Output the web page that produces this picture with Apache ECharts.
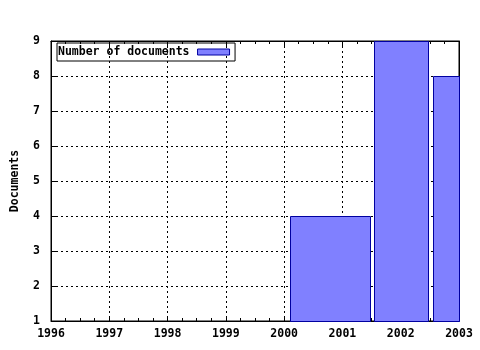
<!DOCTYPE html>
<html>
<head>
<meta charset="utf-8">
<script src="https://cdn.jsdelivr.net/npm/echarts@6/dist/echarts.min.js"></script>
<style>
html,body{margin:0;padding:0;background:#fff;}
#c{width:480px;height:350px;}
</style>
</head>
<body>
<div id="c"></div>
<script>
// Data
var seriesName = 'Number of documents';
var years = [2001, 2002, 2003];
var documents = [4, 9, 8];
var boxLeft = [2000.1, 2001.54, 2002.55];
var boxRight = [2001.47, 2002.47, 2003.45];
var xMin = 1996, xMax = 2003;
var yMin = 1, yMax = 9;

var FONT = '"DejaVu Sans Mono", monospace';
var data = years.map(function (y, i) { return [boxLeft[i], boxRight[i], documents[i], y]; });

var chart = echarts.init(document.getElementById('c'), null, {renderer: 'canvas'});
var labelStyle = {color: '#000', fontFamily: FONT, fontWeight: 'bold', fontSize: 11.5};
var gridLine = {show: true, lineStyle: {color: '#000', type: [2, 3], width: 1}};

chart.setOption({
  animation: false,
  backgroundColor: '#fff',
  grid: {left: 51, right: 21, top: 41, bottom: 29, containLabel: false, outerBoundsMode: 'none',
         show: true, borderColor: '#000', borderWidth: 1, backgroundColor: 'transparent'},
  legend: {
    show: true,
    left: 57, top: 43,
    align: 'right',
    itemWidth: 32, itemHeight: 6,
    itemGap: 8,
    borderColor: '#000', borderWidth: 1, borderRadius: 0,
    padding: [3, 5, 3, 1],
    icon: 'rect',
    itemStyle: {color: '#8080ff', borderColor: '#0000a0', borderWidth: 1},
    textStyle: Object.assign({padding: [0, 3, 0, 0]}, labelStyle),
    data: [seriesName]
  },
  xAxis: [{
    type: 'value', min: xMin, max: xMax, interval: 1,
    axisLine: {show: true, onZero: false, lineStyle: {color: '#000'}},
    axisTick: {show: true, inside: true, length: 5, lineStyle: {color: '#000'}},
    minorTick: {show: true, splitNumber: 4, length: 3, lineStyle: {color: '#000'}},
    axisLabel: Object.assign({margin: 7, formatter: function (v) { return String(v); }}, labelStyle),
    splitLine: gridLine
  }, {
    type: 'value', min: xMin, max: xMax, interval: 1, position: 'top',
    axisLine: {show: true, onZero: false, lineStyle: {color: '#000'}},
    axisTick: {show: true, inside: true, length: 5, lineStyle: {color: '#000'}},
    minorTick: {show: true, splitNumber: 4, length: 3, lineStyle: {color: '#000'}},
    axisLabel: {show: false}, splitLine: {show: false}
  }],
  yAxis: [{
    type: 'value', min: yMin, max: yMax, interval: 1,
    name: 'Documents', nameLocation: 'middle', nameGap: 30, nameRotate: 90,
    nameTextStyle: labelStyle,
    axisLine: {show: true, onZero: false, lineStyle: {color: '#000'}},
    axisTick: {show: true, inside: true, length: 5, lineStyle: {color: '#000'}},
    axisLabel: Object.assign({margin: 11}, labelStyle),
    splitLine: gridLine
  }, {
    type: 'value', min: yMin, max: yMax, interval: 1, position: 'right',
    axisLine: {show: true, onZero: false, lineStyle: {color: '#000'}},
    axisTick: {show: true, inside: true, length: 5, lineStyle: {color: '#000'}},
    axisLabel: {show: false}, splitLine: {show: false}
  }],
  series: [{
    name: seriesName,
    type: 'custom',
    xAxisIndex: 0, yAxisIndex: 0,
    itemStyle: {color: '#8080ff', borderColor: '#0000a0', borderWidth: 1},
    encode: {x: [0, 1], y: 2},
    data: data,
    renderItem: function (params, api) {
      var p1 = api.coord([api.value(0), api.value(2)]);
      var p2 = api.coord([api.value(1), yMin]);
      var cs = params.coordSys;
      var rect = echarts.graphic.clipRectByRect(
        {x: p1[0], y: p1[1], width: p2[0] - p1[0], height: p2[1] - p1[1]},
        {x: cs.x, y: cs.y, width: cs.width, height: cs.height});
      if (!rect) return null;
      return {
        type: 'rect',
        shape: {x: Math.round(rect.x) + 0.5, y: Math.round(rect.y) + 0.5, width: Math.round(rect.width), height: Math.round(rect.height)},
        style: {fill: '#8080ff', stroke: '#0000a0', lineWidth: 1}
      };
    },
    z: 1
  }]
});
</script>
</body>
</html>
